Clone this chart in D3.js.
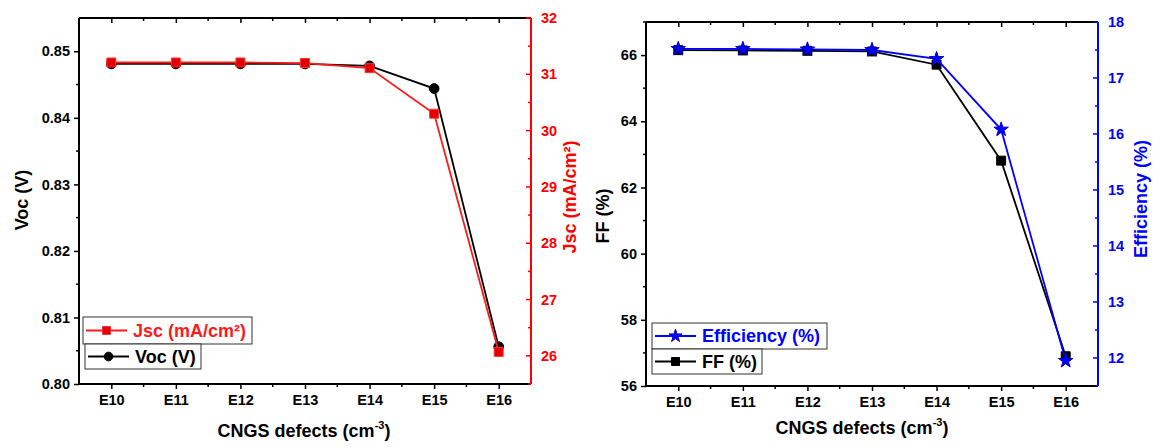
<!DOCTYPE html>
<html>
<head>
<meta charset="utf-8">
<script src="https://cdn.jsdelivr.net/npm/d3@7"></script>
<style>
  body { margin: 0; background: #fff; }
  svg { display: block; font-family: "Liberation Sans", Arial, sans-serif; font-weight: bold; }
</style>
</head>
<body>
<svg id="chart" width="1153" height="447"></svg>
<script>
// defect density exponents (E10 ... E16)
const defects = [10, 11, 12, 13, 14, 15, 16];

// left panel
const voc = [0.8481, 0.8481, 0.8481, 0.8481, 0.8478, 0.8444, 0.8056];
const jsc = [31.21, 31.21, 31.21, 31.20, 31.11, 30.30, 26.07];

// right panel
const ff = [66.15, 66.14, 66.13, 66.11, 65.71, 62.81, 56.90];
const eff = [17.52, 17.52, 17.51, 17.50, 17.34, 16.08, 11.95];

const vocTicks = [0.80, 0.81, 0.82, 0.83, 0.84, 0.85];
const jscTicks = [26, 27, 28, 29, 30, 31, 32];
const ffTicks = [56, 58, 60, 62, 64, 66];
const effTicks = [12, 13, 14, 15, 16, 17, 18];

const svg = d3.select('#chart');

function drawPanel(cfg) {
    const x = d3.scaleLinear().domain([9.5, 16.5]).range([cfg.left, cfg.right]);
    const yL = d3.scaleLinear().domain(cfg.leftDomain).range([cfg.bottom, cfg.top]);
    const yR = d3.scaleLinear().domain(cfg.rightDomain).range([cfg.bottom, cfg.top]);
    const g = svg.append('g');

    // minor x ticks at half steps
    const xMinor = d3.range(10.5, 16, 1);

    // bottom axis
    const bottom = g.append('g').attr('transform', `translate(0,${cfg.bottom})`)
        .call(d3.axisBottom(x).tickValues(defects).tickFormat(d => 'E' + d).tickSize(5).tickPadding(6));
    bottom.append('g').selectAll('line').data(xMinor).join('line')
        .attr('x1', d => x(d)).attr('x2', d => x(d)).attr('y1', 0).attr('y2', 3)
        .attr('stroke', '#000').attr('stroke-width', 1.5);

    // top axis, inward ticks
    const top = g.append('g').attr('transform', `translate(0,${cfg.top})`)
        .call(d3.axisBottom(x).tickValues(defects).tickFormat('').tickSize(5));
    top.append('g').selectAll('line').data(xMinor).join('line')
        .attr('x1', d => x(d)).attr('x2', d => x(d)).attr('y1', 0).attr('y2', 3)
        .attr('stroke', '#000').attr('stroke-width', 1.5);

    // left axis
    const left = g.append('g').attr('transform', `translate(${cfg.left},0)`)
        .call(d3.axisLeft(yL).tickValues(cfg.leftTicks).tickFormat(cfg.leftFormat).tickSize(5).tickPadding(4));
    left.append('g').selectAll('line').data(cfg.leftMinor).join('line')
        .attr('x1', -3).attr('x2', 0).attr('y1', d => yL(d)).attr('y2', d => yL(d))
        .attr('stroke', '#000').attr('stroke-width', 1.5);

    // right axis, inward ticks, coloured
    const right = g.append('g').attr('transform', `translate(${cfg.right},0)`)
        .call(d3.axisRight(yR).tickValues(cfg.rightTicks).tickFormat(d3.format('d')).tickSize(0).tickPadding(10));
    right.append('g').selectAll('line').data(cfg.rightTicks).join('line')
        .attr('x1', -5).attr('x2', 0).attr('y1', d => yR(d)).attr('y2', d => yR(d))
        .attr('stroke', cfg.rightColor).attr('stroke-width', 1.5);
    right.append('g').selectAll('line').data(cfg.rightMinor).join('line')
        .attr('x1', -3).attr('x2', 0).attr('y1', d => yR(d)).attr('y2', d => yR(d))
        .attr('stroke', cfg.rightColor).attr('stroke-width', 1.5);

    g.selectAll('.domain').attr('stroke', '#000').attr('stroke-width', 2);
    g.selectAll('.tick line').attr('stroke-width', 1.5);
    g.selectAll('.tick text').attr('font-size', 14.5).attr('font-weight', 'bold').attr('fill', '#000')
        .attr('font-family', '"Liberation Sans", Arial, sans-serif');
    right.select('.domain').attr('stroke', cfg.rightColor);
    right.selectAll('.tick text').attr('fill', cfg.rightColor);
    // plain domain lines without outer tick stubs
    bottom.select('.domain').attr('d', `M${cfg.left},0H${cfg.right}`);
    top.select('.domain').attr('d', `M${cfg.left},0H${cfg.right}`);
    left.select('.domain').attr('d', `M0,${cfg.bottom}V${cfg.top}`);
    right.select('.domain').attr('d', `M0,${cfg.bottom}V${cfg.top}`);

    // series
    const line = (ys, vals) => d3.line().x((d, i) => x(defects[i])).y(d => ys(d))(vals);
    cfg.series.forEach(s => {
        const ys = s.axis === 'left' ? yL : yR;
        g.append('path').attr('d', line(ys, s.values))
            .attr('fill', 'none').attr('stroke', s.color).attr('stroke-width', 1.8);
        g.append('g').selectAll('path').data(s.values).join('path')
            .attr('transform', (d, i) => `translate(${x(defects[i])},${ys(d)})`)
            .attr('d', d3.symbol().type(s.symbol).size(s.size))
            .attr('fill', s.fill).attr('stroke', s.stroke).attr('stroke-width', 1);
    });

    // axis titles
    const xt = g.append('text').attr('x', cfg.xTitleX).attr('y', cfg.xTitleY)
        .attr('text-anchor', 'middle').attr('font-size', 18);
    xt.append('tspan').text('CNGS defects (cm');
    xt.append('tspan').attr('font-size', 11).attr('dy', -8).text('-3');
    xt.append('tspan').attr('dy', 8).text(')');

    g.append('text').attr('transform', `translate(${cfg.leftTitleX},${cfg.leftTitleY}) rotate(-90)`)
        .attr('text-anchor', 'middle').attr('font-size', 18).text(cfg.leftTitle);
    g.append('text').attr('transform', `translate(${cfg.rightTitleX},${cfg.rightTitleY}) rotate(-90)`)
        .attr('text-anchor', 'middle').attr('font-size', 18).attr('fill', cfg.rightColor).text(cfg.rightTitle);

    // legend
    cfg.legend.forEach(l => {
        const lg = g.append('g').attr('transform', `translate(${l.x},${l.y})`);
        lg.append('rect').attr('width', l.w).attr('height', l.h)
            .attr('fill', '#fff').attr('stroke', '#333').attr('stroke-width', 1);
        lg.append('line').attr('x1', 3).attr('x2', 44).attr('y1', l.h / 2).attr('y2', l.h / 2)
            .attr('stroke', l.s.color).attr('stroke-width', 1.8);
        lg.append('path').attr('transform', `translate(23.5,${l.h / 2})`)
            .attr('d', d3.symbol().type(l.s.symbol).size(l.s.size * 0.8))
            .attr('fill', l.s.fill).attr('stroke', l.s.stroke);
        lg.append('text').attr('x', 50).attr('y', l.h / 2 + 6).attr('font-size', 18)
            .attr('fill', l.s.color).text(l.label);
    });
}

const jscSeries = { axis: 'right', values: jsc, color: '#ff1a1a', fill: '#e00000', stroke: '#ff3030', symbol: d3.symbolSquare, size: 80 };
const vocSeries = { axis: 'left', values: voc, color: '#000', fill: '#000', stroke: '#000', symbol: d3.symbolCircle, size: 75 };
const ffSeries = { axis: 'left', values: ff, color: '#000', fill: '#000', stroke: '#000', symbol: d3.symbolSquare, size: 80 };
const effSeries = { axis: 'right', values: eff, color: '#0000ff', fill: '#0000ff', stroke: '#0000cc', symbol: d3.symbolStar, size: 65 };

drawPanel({
    left: 79, right: 531, top: 18, bottom: 384,
    leftDomain: [0.80, 0.855], rightDomain: [25.5, 32],
    leftTicks: vocTicks, leftFormat: d3.format('.2f'),
    leftMinor: [0.805, 0.815, 0.825, 0.835, 0.845],
    rightTicks: jscTicks, rightMinor: [25.5, 26.5, 27.5, 28.5, 29.5, 30.5, 31.5],
    rightColor: '#ff0000',
    series: [vocSeries, jscSeries],
    xTitleX: 304, xTitleY: 437,
    leftTitle: 'Voc (V)', leftTitleX: 28, leftTitleY: 200,
    rightTitle: 'Jsc (mA/cm²)', rightTitleX: 576, rightTitleY: 197,
    legend: [
        { x: 83, y: 317, w: 169, h: 27, s: jscSeries, label: 'Jsc (mA/cm²)' },
        { x: 85, y: 344, w: 116, h: 25, s: vocSeries, label: 'Voc (V)' }
    ]
});

drawPanel({
    left: 646, right: 1098, top: 22, bottom: 386,
    leftDomain: [56, 67], rightDomain: [11.5, 18],
    leftTicks: ffTicks, leftFormat: d3.format('d'),
    leftMinor: [57, 59, 61, 63, 65, 67],
    rightTicks: effTicks, rightMinor: [11.5, 12.5, 13.5, 14.5, 15.5, 16.5, 17.5],
    rightColor: '#0000ff',
    series: [ffSeries, effSeries],
    xTitleX: 862, xTitleY: 434,
    leftTitle: 'FF (%)', leftTitleX: 609, leftTitleY: 216,
    rightTitle: 'Efficiency (%)', rightTitleX: 1147, rightTitleY: 199,
    legend: [
        { x: 652, y: 323, w: 175, h: 26, s: effSeries, label: 'Efficiency (%)' },
        { x: 652, y: 349, w: 110, h: 25, s: ffSeries, label: 'FF (%)' }
    ]
});
</script>
</body>
</html>
